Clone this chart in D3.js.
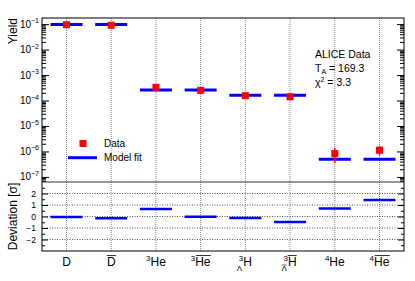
<!DOCTYPE html>
<html>
<head>
<meta charset="utf-8">
<script src="https://cdn.jsdelivr.net/npm/d3@7"></script>
<style>
  body { margin: 0; background: #fff; }
  text { font-family: "Liberation Sans", Arial, sans-serif; fill: #000; }
</style>
</head>
<body>
<div id="chart"></div>
<script>
// chart values
var species = ["D", "Dbar", "3He", "3Hebar", "3LH", "3LHbar", "4He", "4Hebar"];
var dataYield = [0.095, 0.09, 3.3e-4, 2.5e-4, 1.55e-4, 1.4e-4, 8.2e-7, 1.12e-6];
var dataErrLow = [0.085, 0.08, 3.0e-4, 2.3e-4, 1.4e-4, 1.25e-4, 3.5e-7, 6.9e-7];
var dataErrHigh = [0.105, 0.1, 3.6e-4, 2.7e-4, 1.7e-4, 1.55e-4, 1.35e-6, 1.65e-6];
var modelYield = [0.097, 0.097, 2.6e-4, 2.6e-4, 1.6e-4, 1.6e-4, 4.9e-7, 4.9e-7];
var deviation = [-0.05, -0.15, 0.66, -0.02, -0.12, -0.47, 0.7, 1.44];
var decadeTicks = [1e-7, 1e-6, 1e-5, 1e-4, 1e-3, 1e-2, 1e-1];
var devTicks = [-2, -1, 0, 1, 2];

var svgWidth = 415;
var svgHeight = 281;

var svg = d3.select("#chart")
  .append("svg")
    .attr("width", svgWidth)
    .attr("height", svgHeight);

svg.append("rect").attr("width", svgWidth).attr("height", svgHeight).attr("fill", "#fff");

// frame layout
var left = 42, right = 404;
var topY = 18, splitY = 182, bottomY = 251;

var x = d3.scalePoint()
    .domain(species)
    .range([left + 24.5, right - 24.5]);

var yTop = d3.scaleLog()
    .domain([Math.pow(10, -7.2), Math.pow(10, -0.76)])
    .range([splitY, topY]);

var yDev = d3.scaleLinear()
    .domain([-3, 3])
    .range([bottomY, splitY]);

var minorTicks = [];
for (var e = -8; e <= -1; e++) {
  for (var k = 2; k <= 9; k++) {
    var v = k * Math.pow(10, e);
    if (v > yTop.domain()[0] && v < yTop.domain()[1]) minorTicks.push(v);
  }
}

// vertical dotted guide lines
svg.selectAll(".vgrid").data(species)
  .enter().append("line")
    .attr("x1", d => x(d)).attr("x2", d => x(d))
    .attr("y1", topY).attr("y2", bottomY)
    .attr("stroke", "#888")
    .attr("stroke-dasharray", "1,1");

// horizontal dotted lines in the deviation panel
svg.selectAll(".hgrid").data(devTicks)
  .enter().append("line")
    .attr("x1", left).attr("x2", right)
    .attr("y1", d => yDev(d)).attr("y2", d => yDev(d))
    .attr("stroke", "#555")
    .attr("stroke-dasharray", "1,1.5");

// axes ticks (inward)
function tickAxis(axis, vals, size, xpos) {
  var g = svg.append("g")
      .attr("transform", `translate(${xpos},0)`)
      .call(axis.tickValues(vals).tickSize(size).tickFormat(""));
  g.select(".domain").remove();
  g.selectAll("line").attr("stroke", "#000");
}
tickAxis(d3.axisLeft(yTop), decadeTicks, -7, left);
tickAxis(d3.axisLeft(yTop), minorTicks, -4, left);
tickAxis(d3.axisRight(yTop), decadeTicks, -7, right);
tickAxis(d3.axisRight(yTop), minorTicks, -4, right);
tickAxis(d3.axisLeft(yDev), devTicks, -6, left);
tickAxis(d3.axisLeft(yDev), [-2.5, -1.5, -0.5, 0.5, 1.5, 2.5], -3, left);
tickAxis(d3.axisRight(yDev), devTicks, -6, right);
tickAxis(d3.axisRight(yDev), [-2.5, -1.5, -0.5, 0.5, 1.5, 2.5], -3, right);

// frames
svg.append("rect")
    .attr("x", left).attr("y", topY)
    .attr("width", right - left).attr("height", bottomY - topY)
    .attr("fill", "none").attr("stroke", "#000");
svg.append("line")
    .attr("x1", left).attr("x2", right)
    .attr("y1", splitY).attr("y2", splitY)
    .attr("stroke", "#333");

// top tick labels 10^n
svg.selectAll(".ylab").data(decadeTicks)
  .enter().append("text")
    .attr("x", 39)
    .attr("y", d => yTop(d) + 3.5)
    .attr("text-anchor", "end")
    .attr("font-size", 10)
    .each(function(d) {
      var t = d3.select(this);
      t.append("tspan").text("10");
      t.append("tspan").attr("dy", -4.5).attr("font-size", 7)
        .text("\u2212" + Math.round(-Math.log10(d)));
    });

// deviation tick labels
svg.selectAll(".dlab").data(devTicks)
  .enter().append("text")
    .attr("x", 36)
    .attr("y", d => yDev(d) + 3)
    .attr("text-anchor", "end")
    .attr("font-size", 8.5)
    .text(d => d < 0 ? "\u2212" + (-d) : d);

// axis titles
svg.append("text")
    .attr("transform", "translate(17,18) rotate(-90)")
    .attr("text-anchor", "end")
    .attr("font-size", 12)
    .text("Yield");
svg.append("text")
    .attr("transform", `translate(17,${(splitY + bottomY) / 2}) rotate(-90)`)
    .attr("text-anchor", "middle")
    .attr("font-size", 12)
    .text("Deviation [\u03c3]");

// model fit bars
var halfW = 16;
svg.selectAll(".model").data(species)
  .enter().append("line")
    .attr("x1", d => x(d) - halfW).attr("x2", d => x(d) + halfW)
    .attr("y1", (d, i) => yTop(modelYield[i])).attr("y2", (d, i) => yTop(modelYield[i]))
    .attr("stroke", "#0000ff").attr("stroke-width", 3);

// data error bars and points
svg.selectAll(".err").data(species)
  .enter().append("line")
    .attr("x1", d => x(d)).attr("x2", d => x(d))
    .attr("y1", (d, i) => yTop(dataErrLow[i])).attr("y2", (d, i) => yTop(dataErrHigh[i]))
    .attr("stroke", "#ff0000").attr("stroke-width", 1.5);
svg.selectAll(".pt").data(species)
  .enter().append("rect")
    .attr("x", d => x(d) - 3.5)
    .attr("y", (d, i) => yTop(dataYield[i]) - 3.5)
    .attr("width", 7).attr("height", 7)
    .attr("fill", "#ff0000");

// deviation bars
svg.selectAll(".dev").data(species)
  .enter().append("line")
    .attr("x1", d => x(d) - halfW).attr("x2", d => x(d) + halfW)
    .attr("y1", (d, i) => yDev(deviation[i])).attr("y2", (d, i) => yDev(deviation[i]))
    .attr("stroke", "#0000ff").attr("stroke-width", 2.5);

// legend
svg.append("rect").attr("x", 79.5).attr("y", 140).attr("width", 7).attr("height", 7).attr("fill", "#ff0000");
svg.append("text").attr("x", 104).attr("y", 147).attr("font-size", 10).text("Data");
svg.append("line").attr("x1", 68).attr("x2", 97).attr("y1", 157.7).attr("y2", 157.7)
    .attr("stroke", "#0000ff").attr("stroke-width", 3);
svg.append("text").attr("x", 104).attr("y", 161).attr("font-size", 10).text("Model fit");

// annotation
svg.append("text").attr("x", 315).attr("y", 58).attr("font-size", 10.5).text("ALICE Data");
var ta = svg.append("text").attr("x", 315).attr("y", 72).attr("font-size", 10.5);
ta.append("tspan").text("T");
ta.append("tspan").attr("dy", 2).attr("font-size", 7).text("A");
ta.append("tspan").attr("dy", -2).text(" = 169.3");
var chi = svg.append("text").attr("x", 315).attr("y", 86).attr("font-size", 10.5);
chi.append("tspan").text("\u03c7");
chi.append("tspan").attr("dy", -4).attr("font-size", 7).text("2");
chi.append("tspan").attr("dy", 4).text(" = 3.3");

// x labels
var labY = 266;
function xlabel(name, mass, sub, main, bar) {
  var cx = x(name);
  var g = svg.append("g").attr("transform", `translate(${cx},${labY})`);
  var t = g.append("text").attr("text-anchor", "middle").attr("font-size", 12);
  if (mass) {
    t.append("tspan").attr("font-size", 8).attr("dy", -5).text(mass);
    t.append("tspan").attr("dy", 5).text(main);
  } else {
    t.append("tspan").text(main);
  }
  if (sub) {
    g.append("text").attr("x", -6).attr("y", 4.5).attr("text-anchor", "middle")
      .attr("font-size", 8).text("\u039b");
  }
  if (bar) {
    var bb = t.node().getBBox();
    var w = main.length === 1 ? 9 : 15;
    var x1 = bb.x + bb.width - w;
    g.append("line").attr("x1", x1).attr("x2", bb.x + bb.width)
      .attr("y1", -10.5).attr("y2", -10.5).attr("stroke", "#000").attr("stroke-width", 0.8);
    if (sub) {
      g.append("line").attr("x1", -8.5).attr("x2", -3.5)
        .attr("y1", -1).attr("y2", -1).attr("stroke", "#000").attr("stroke-width", 0.6);
    }
  }
}
xlabel("D", "", false, "D", false);
xlabel("Dbar", "", false, "D", true);
xlabel("3He", "3", false, "He", false);
xlabel("3Hebar", "3", false, "He", true);
xlabel("3LH", "3", true, "H", false);
xlabel("3LHbar", "3", true, "H", true);
xlabel("4He", "4", false, "He", false);
xlabel("4Hebar", "4", false, "He", true);
</script>
</body>
</html>
